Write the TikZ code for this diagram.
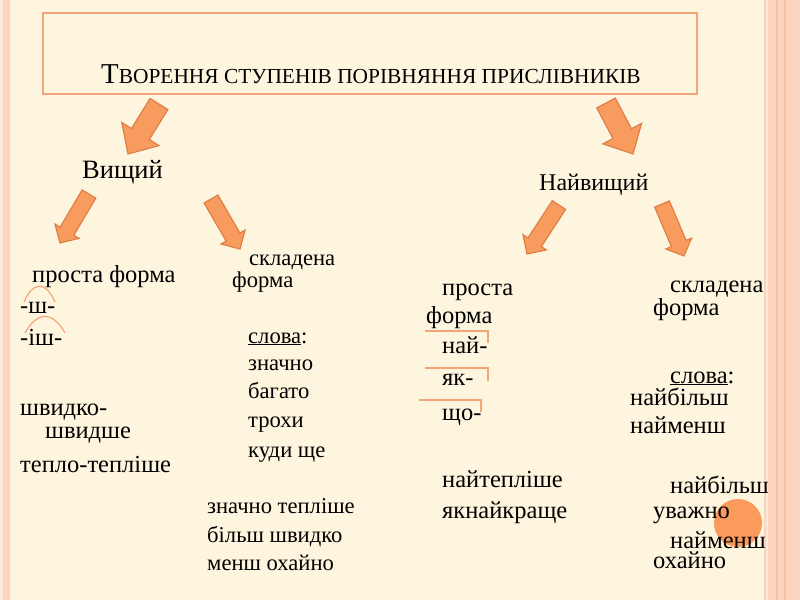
\documentclass[tikz,border=0pt]{standalone}
\usepackage{fontspec}
\setmainfont{Liberation Serif}
\usetikzlibrary{calc}
\definecolor{cream}{HTML}{FEF5DF}
\definecolor{bandpink}{HTML}{FCD3BF}
\definecolor{bandpale}{HTML}{FDE9D8}
\definecolor{banddark}{HTML}{F8BFA3}
\definecolor{boxline}{HTML}{F3A57A}
\definecolor{arrowfill}{HTML}{F89B5E}
\definecolor{arrowline}{HTML}{DE7C44}
\definecolor{dotfill}{HTML}{FA9B5C}
\tikzset{
  word/.style={anchor=base west,inner sep=0pt,font=\fontsize{22.6}{26}\selectfont},
  wordbig/.style={word,font=\fontsize{24.5}{28}\selectfont},
  headword/.style={word,font=\fontsize{24}{28}\selectfont},
  arrowbody/.style={fill=arrowfill,draw=arrowline,line width=1.1pt,line join=miter},
  marker/.style={draw=boxline,line width=1.2pt}
}
% block arrow: tail, tip, half shaft, half head, head start
\newcommand\blockarrow[5]{%
  \coordinate (ba-h) at ($(#1)!#5!(#2)$);
  \draw[arrowbody] ($(#1)!#3!90:(#2)$) -- ($(ba-h)!#3!90:(#2)$)
    -- ($(ba-h)!#4!90:(#2)$) -- (#2) -- ($(ba-h)!#4!-90:(#2)$)
    -- ($(ba-h)!#3!-90:(#2)$) -- ($(#1)!#3!-90:(#2)$) -- cycle;}
\begin{document}
\begin{tikzpicture}[x=1pt,y=-1pt]
\useasboundingbox (0,0) rectangle (800,600);
% page and side bands
\fill[cream] (0,0) rectangle (800,600);
\fill[bandpale] (0,0) rectangle (3,600);
\fill[bandpink] (3,0) rectangle (10,600);
\fill[bandpink] (764,0) rectangle (800,600);
\fill[bandpale] (766,0) rectangle (768,600);
\fill[banddark] (776,0) rectangle (778,600);
\fill[banddark] (784,0) rectangle (786,600);
% title
\node[draw=boxline,line width=1.6pt,minimum width=654pt,minimum height=81pt] (titlebox) at (370,53.5) {};
\node[anchor=base,inner sep=0pt] (title) at (371,83)
  {{\fontsize{28.8}{32}\selectfont Т}{\fontsize{21.4}{25}\selectfont ВОРЕННЯ СТУПЕНІВ ПОРІВНЯННЯ ПРИСЛІВНИКІВ}};
% degrees
\node[headword,font=\fontsize{26.5}{30}\selectfont] (high) at (82,178) {Вищий};
\node[headword] (highest) at (539,190) {Найвищий};
% arrows
\coordinate (t1) at (159,104); \coordinate (p1) at (128,154);
\coordinate (t2) at (606,103); \coordinate (p2) at (633,154);
\coordinate (t3) at (89,194);  \coordinate (p3) at (60,243);
\coordinate (t4) at (211,199); \coordinate (p4) at (240,249);
\coordinate (t5) at (559,205); \coordinate (p5) at (527,254);
\coordinate (t6) at (662,204); \coordinate (p6) at (684,256);
\blockarrow{t1}{p1}{10.5pt}{22pt}{0.6}
\blockarrow{t2}{p2}{10.5pt}{22pt}{0.6}
\foreach \a in {3,4,5,6} {\blockarrow{t\a}{p\a}{8pt}{14pt}{0.76}}
% simple form, higher
\node[wordbig] (lsimple) at (32,282) {проста форма};
\node[wordbig] (lsuf1) at (20,313) {-ш-};
\node[wordbig] (lsuf2) at (20,345) {-іш-};
\draw[marker] (24,302) .. controls (33,281) and (46,281) .. (55,302);
\draw[marker] (25,333) .. controls (37,311) and (53,311) .. (65,333);
\node[wordbig] (lex1) at (20,415) {швидко-};
\node[wordbig] (lex1b) at (45,438) {швидше};
\node[wordbig] (lex2) at (20,472) {тепло-тепліше};
% compound form, higher
\node[word] (mform1) at (249,265) {складена};
\node[word] (mform2) at (232,287) {форма};
\node[word] (mwords) at (248,343) {\underline{слова}:};
\foreach \w/\y in {значно/370,багато/398,трохи/427,куди ще/457}
  \node[word] (m\y) at (248,\y) {\w};
\foreach \w/\y in {значно тепліше/513,більш швидко/542,менш охайно/570}
  \node[word] (mex\y) at (207,\y) {\w};
% simple form, highest
\node[wordbig] (rsimple1) at (442,295) {проста};
\node[wordbig] (rsimple2) at (426,323) {форма};
\foreach \w/\y in {най-/353,як-/385,що-/420}
  \node[wordbig] (rp\y) at (442,\y) {\w};
\draw[marker] (425,331) -| (488,343);
\draw[marker] (425,368) -| (488,381);
\draw[marker] (419,400) -| (481,412);
\node[wordbig] (rex1) at (442,487) {найтепліше};
\node[wordbig] (rex2) at (442,518) {якнайкраще};
% compound form, highest
\fill[dotfill] (738,523) circle (24);
\node[wordbig] (cform1) at (670,292) {складена};
\node[wordbig] (cform2) at (653,315) {форма};
\node[wordbig] (cwords) at (670,383) {\underline{слова}:};
\node[wordbig] (cw1) at (630,405) {найбільш};
\node[wordbig] (cw2) at (630,433) {найменш};
\node[wordbig] (cex1) at (670,493) {найбільш};
\node[wordbig] (cex1b) at (653,518) {уважно};
\node[wordbig] (cex2) at (670,548) {найменш};
\node[wordbig] (cex2b) at (653,568) {охайно};
\end{tikzpicture}
\end{document}
